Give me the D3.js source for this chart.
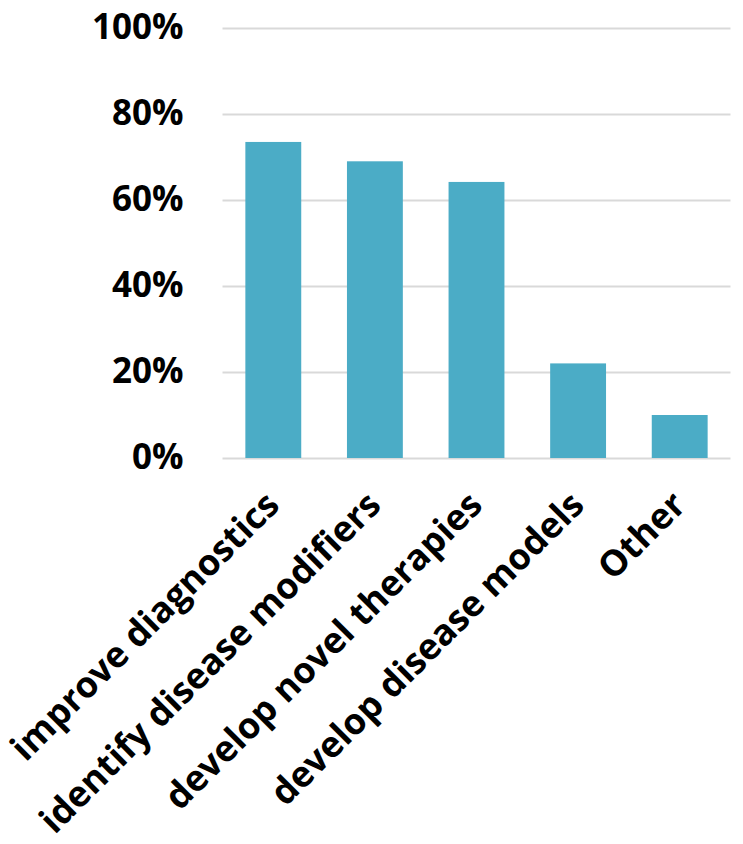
<!DOCTYPE html>
<html>
<head>
<meta charset="utf-8">
<script src="https://cdn.jsdelivr.net/npm/d3@7"></script>
<style>
  html, body { margin: 0; padding: 0; background: #ffffff; }
  svg { display: block; }
  text { font-family: "Open Sans", "DejaVu Sans", sans-serif; font-weight: 700; fill: #000; }
</style>
</head>
<body>
<div id="chart"></div>
<script>
const categories = [
  "improve diagnostics",
  "identify disease modifiers",
  "develop novel therapies",
  "develop disease models",
  "Other"
];
const values = [73.5, 69, 64.2, 22, 10];
const yTicks = [0, 20, 40, 60, 80, 100];
const yTickLabels = ["0%", "20%", "40%", "60%", "80%", "100%"];

const W = 743, H = 844;
const margin = { top: 28, right: 12.5, bottom: 386, left: 222.5 };
const innerW = W - margin.left - margin.right;
const innerH = H - margin.top - margin.bottom;

const svg = d3.select("#chart").append("svg")
  .attr("width", W).attr("height", H);

const g = svg.append("g").attr("transform", `translate(${margin.left},${margin.top})`);

const x = d3.scaleBand().domain(categories).range([0, innerW])
  .paddingInner(0.45).paddingOuter(0.225);
const y = d3.scaleLinear().domain([0, 100]).range([innerH, 0]);

// y axis with gridlines
const yAxis = d3.axisLeft(y)
  .tickValues(yTicks)
  .tickSize(-innerW)
  .tickPadding(39)
  .tickFormat((d, i) => yTickLabels[i]);

const yg = g.append("g").call(yAxis);
yg.select(".domain").remove();
yg.selectAll(".tick line").attr("stroke", "#d9d9d9").attr("stroke-width", 2);
yg.selectAll(".tick text")
  .attr("font-size", 35)
  .attr("font-family", "'Open Sans', sans-serif")
  .attr("font-weight", 700)
  .attr("fill", "#000")
  .attr("dy", "0.3em");

// bars
g.selectAll("rect.bar")
  .data(values)
  .join("rect")
  .attr("class", "bar")
  .attr("x", (d, i) => x(categories[i]))
  .attr("width", x.bandwidth())
  .attr("y", d => y(d))
  .attr("height", d => innerH - y(d))
  .attr("fill", "#4BACC6");

// x axis labels
const xAxis = d3.axisBottom(x).tickSize(0).tickPadding(0);
const xg = g.append("g").attr("transform", `translate(0,${innerH})`).call(xAxis);
xg.select(".domain").remove();
xg.selectAll(".tick text")
  .attr("font-size", 36)
  .attr("font-family", "'Open Sans', sans-serif")
  .attr("font-weight", 700)
  .attr("fill", "#000")
  .attr("y", null)
  .attr("dy", null)
  .attr("text-anchor", "end")
  .attr("transform", "translate(8,49) rotate(-45)");
</script>
</body>
</html>
